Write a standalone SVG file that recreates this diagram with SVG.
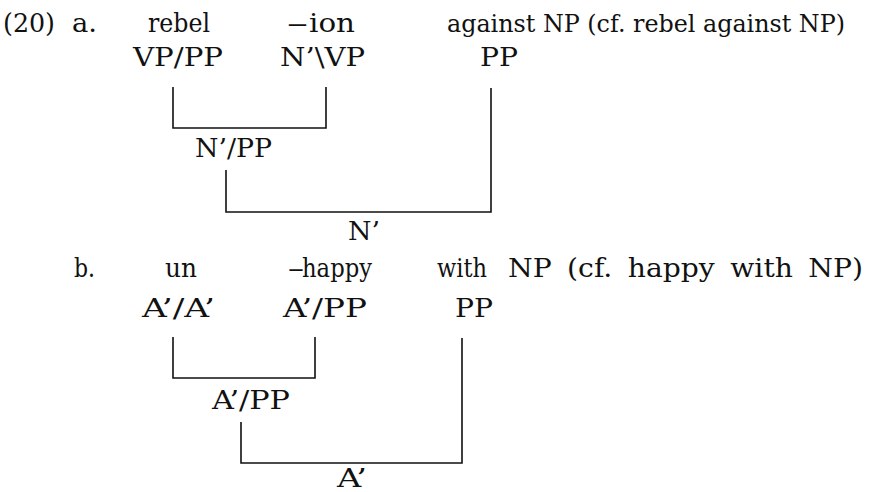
<svg xmlns="http://www.w3.org/2000/svg" width="870" height="492" viewBox="0 0 870 492">
  <style>
    text { font-family: "DejaVu Serif", "Liberation Serif", serif; font-size: 26px; fill: #111; }
    .br { fill: none; stroke: #111; stroke-width: 1.6; }
  </style>
  <rect width="870" height="492" fill="#fff"/>

  <!-- example (20a): rebel + -ion -->
  <g id="label-a">
    <text x="3" y="32" textLength="52" lengthAdjust="spacingAndGlyphs">(20)</text>
    <text x="72" y="32" textLength="25" lengthAdjust="spacingAndGlyphs">a.</text>
  </g>
  <g id="a-rebel">
    <text x="148" y="32" textLength="62" lengthAdjust="spacingAndGlyphs">rebel</text>
    <text x="133" y="66" textLength="90" lengthAdjust="spacingAndGlyphs">VP/PP</text>
  </g>
  <g id="a-ion">
    <text y="32"><tspan x="287" textLength="21" lengthAdjust="spacingAndGlyphs">–</tspan><tspan x="309" textLength="46" lengthAdjust="spacingAndGlyphs">ion</tspan></text>
    <text x="280" y="66" textLength="85" lengthAdjust="spacingAndGlyphs">N’\VP</text>
  </g>
  <g id="a-against">
    <text x="447" y="32" style="font-size:24.5px" textLength="398" lengthAdjust="spacingAndGlyphs">against NP (cf. rebel against NP)</text>
    <text x="480" y="66" textLength="38" lengthAdjust="spacingAndGlyphs">PP</text>
  </g>
  <g id="a-npp">
    <text x="195" y="157" textLength="77" lengthAdjust="spacingAndGlyphs">N’/PP</text>
  </g>
  <g id="a-n">
    <text x="348" y="240" textLength="32" lengthAdjust="spacingAndGlyphs">N’</text>
  </g>

  <!-- example (20b): un- + happy -->
  <g id="label-b">
    <text x="74" y="277" textLength="21" lengthAdjust="spacingAndGlyphs">b.</text>
  </g>
  <g id="b-un">
    <text x="165" y="277" textLength="32" lengthAdjust="spacingAndGlyphs">un</text>
    <text x="142" y="317" textLength="73" lengthAdjust="spacingAndGlyphs">A’/A’</text>
  </g>
  <g id="b-happy">
    <text y="277"><tspan x="288" textLength="16" lengthAdjust="spacingAndGlyphs">–</tspan><tspan x="302" textLength="70" lengthAdjust="spacingAndGlyphs">happy</tspan></text>
    <text x="283" y="317" textLength="84" lengthAdjust="spacingAndGlyphs">A’/PP</text>
  </g>
  <g id="b-with">
    <text x="437" y="277" textLength="50" lengthAdjust="spacingAndGlyphs">with</text>
    <text x="508" y="277" textLength="355" lengthAdjust="spacingAndGlyphs" word-spacing="6">NP (cf. happy with NP)</text>
    <text x="455" y="317" textLength="38" lengthAdjust="spacingAndGlyphs">PP</text>
  </g>
  <g id="b-app">
    <text x="212" y="409" textLength="78" lengthAdjust="spacingAndGlyphs">A’/PP</text>
  </g>
  <g id="b-a">
    <text x="337" y="487" textLength="30" lengthAdjust="spacingAndGlyphs">A’</text>
  </g>

  <!-- bracket connectors -->
  <g id="connectors">
    <path class="br" d="M173,87 V128 H326 V87"/>
    <path class="br" d="M226,170 V212 H491 V88"/>
    <path class="br" d="M173,337 V378 H315 V337"/>
    <path class="br" d="M241,422 V463 H462 V338"/>
  </g>
</svg>
